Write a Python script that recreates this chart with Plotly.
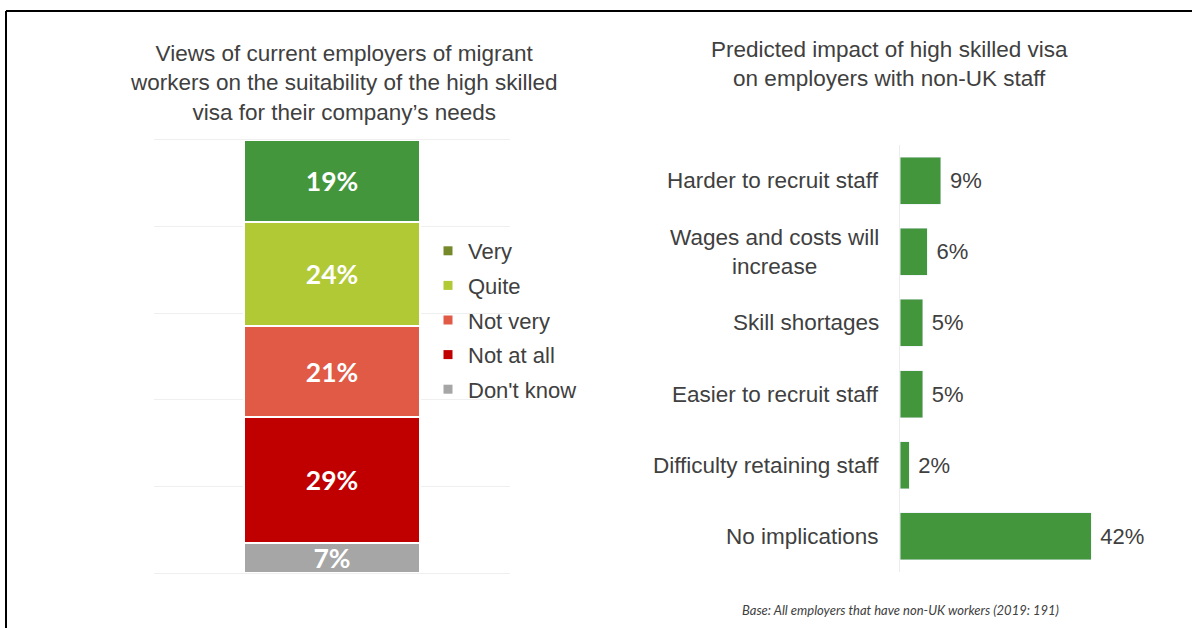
import plotly.graph_objects as go

W, H = 1192, 628

# left chart: suitability of high skilled visa (stacked, bottom to top)
suit_levels = ["Don't know", "Not at all", "Not very", "Quite", "Very"]
suit_values = [7, 29, 21, 24, 19]
suit_colors = ["#a6a6a6", "#c00000", "#e05a46", "#b1c935", "#43963c"]
legend_order = ["Very", "Quite", "Not very", "Not at all", "Don't know"]
legend_colors = ["#76892a", "#b1c935", "#e05a46", "#c00000", "#a6a6a6"]

# right chart: predicted impact
impacts = ["Harder to recruit staff", "Wages and costs will<br>increase", "Skill shortages",
           "Easier to recruit staff", "Difficulty retaining staff", "No implications"]
impact_values = [9, 6, 5, 5, 2, 42]

TXT = "#404040"
ARIAL = "Liberation Sans, Arial, sans-serif"
CAL = "Lato, Carlito, Calibri, sans-serif"
FS = 22.5


def px(x):
    return x / W


def py(y):
    return 1 - y / H


fig = go.Figure()

for name, val, col in zip(suit_levels, suit_values, suit_colors):
    fig.add_trace(go.Bar(
        x=["all"], y=[val], name=name, width=0.494,
        marker=dict(color=col, line=dict(color="white", width=2)),
        text=[f"{val}%"], textposition="inside", insidetextanchor="middle",
        constraintext="none",
        textfont=dict(family=CAL, size=26.5, color="white", weight="bold"),
        showlegend=False, hoverinfo="skip", xaxis="x", yaxis="y"))

for name, col in zip(legend_order, legend_colors):
    fig.add_trace(go.Scatter(
        x=[None], y=[None], mode="markers", name=name, legendgroup=name,
        marker=dict(symbol="square", size=9, color=col),
        xaxis="x", yaxis="y"))

fig.add_trace(go.Bar(
    y=impacts, x=impact_values, orientation="h", width=0.66,
    marker=dict(color="#43963c"),
    text=[f"\u00a0{v}%" for v in impact_values], textposition="outside",
    cliponaxis=False, constraintext="none",
    textfont=dict(family=ARIAL, size=22, color=TXT),
    showlegend=False, hoverinfo="skip", xaxis="x2", yaxis="y2"))

annotations = []
for lab in impacts:
    annotations.append(dict(
        x=0, y=lab, xref="x2", yref="y2", text=lab, showarrow=False,
        xanchor="right", xshift=-19, align="center",
        font=dict(family=ARIAL, size=FS, color=TXT)))

annotations += [
    dict(x=px(343), y=py(83), xref="paper", yref="paper", showarrow=False,
         text="Views of current employers of migrant<br>workers on the suitability of the high skilled"
              "<br>visa for their company\u2019s needs",
         align="center", xanchor="center", yanchor="middle",
         font=dict(family=ARIAL, size=FS, color=TXT)),
    dict(x=px(889), y=py(63.5), xref="paper", yref="paper", showarrow=False,
         text="Predicted impact of high skilled visa<br>on employers with non-UK staff",
         align="center", xanchor="center", yanchor="middle",
         font=dict(family=ARIAL, size=FS, color=TXT)),
    dict(x=px(900), y=py(610), xref="paper", yref="paper", showarrow=False,
         text="<i>Base: All employers that have non-UK workers (2019: 191)</i>",
         xanchor="center", yanchor="middle",
         font=dict(family=CAL, size=13, color=TXT)),
]

fig.update_layout(
    width=W, height=H,
    margin=dict(l=0, r=0, t=0, b=0),
    paper_bgcolor="white", plot_bgcolor="white",
    barmode="stack",
    xaxis=dict(domain=[px(154), px(510)], showticklabels=False, showgrid=False,
               zeroline=False, fixedrange=True, showline=True, mirror=True,
               linecolor="#efefef", linewidth=1),
    yaxis=dict(domain=[py(573), py(140)], range=[0, 100], dtick=20,
               showticklabels=False, showgrid=True, gridcolor="#efefef",
               gridwidth=1, zeroline=False),
    xaxis2=dict(domain=[px(900), px(1127.5)], range=[0, 50], anchor="y2",
                showticklabels=False, showgrid=False, zeroline=False),
    yaxis2=dict(domain=[py(572), py(145)], anchor="x2", autorange="reversed",
                showticklabels=False, showgrid=False, showline=True,
                linecolor="#ececec", linewidth=1, zeroline=False),
    legend=dict(x=px(428), y=py(230), xanchor="left", yanchor="top",
                font=dict(family=ARIAL, size=22, color=TXT),
                tracegroupgap=3, bgcolor="rgba(0,0,0,0)", itemclick=False),
    annotations=annotations,
    shapes=[
        dict(type="line", xref="paper", yref="paper", x0=px(6), x1=1, y0=py(11), y1=py(11),
             line=dict(color="black", width=2)),
        dict(type="line", xref="paper", yref="paper", x0=px(6), x1=px(6), y0=py(11), y1=0,
             line=dict(color="black", width=2)),
    ],
)

# drop the default page margin so the figure sits at the window's top-left corner
fig.write_html("out.html", config={"displayModeBar": False},
               post_script="document.body.style.margin='0';")
